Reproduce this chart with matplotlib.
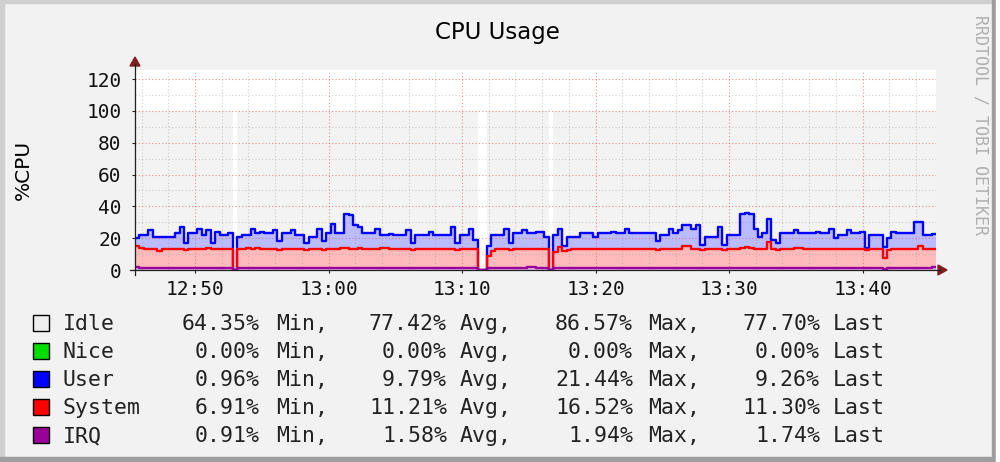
import numpy as np
import matplotlib.pyplot as plt
from matplotlib.patches import Rectangle, Polygon
from matplotlib.lines import Line2D

nan = np.nan

# samples every 20 s starting 12:45:30 (x axis in minutes after 12:00)
start_min = 45.5
step_min = 1 / 3

irq = [
    1.6, 1.5, 1.5, 1.5, 1.5, 1.5, 1.5, 1.5, 1.5, 1.5,
    1.5, 1.5, 1.5, 1.5, 1.5, 1.5, 1.5, 1.5, 1.5, 1.5,
    1.5, 1.5, nan, 1.5, 1.5, 1.5, 1.5, 1.5, 1.5, 1.5,
    1.5, 1.5, 1.5, 1.5, 1.5, 1.5, 1.5, 1.5, 1.5, 1.5,
    1.5, 1.5, 1.5, 1.5, 1.5, 1.5, 1.5, 1.5, 1.5, 1.5,
    1.5, 1.5, 1.5, 1.5, 1.5, 1.5, 1.5, 1.5, 1.5, 1.5,
    1.5, 1.5, 1.5, 1.5, 1.5, 1.5, 1.5, 1.5, 1.5, 1.5,
    1.5, 1.5, 1.5, 1.5, 1.5, 1.5, 1.5, nan, nan, 1.5,
    1.5, 1.5, 1.5, 1.5, 1.5, 1.5, 1.5, 1.5, 1.9, 1.9,
    1.5, 1.5, 1.5, nan, 1.5, 1.5, 1.5, 1.5, 1.5, 1.5,
    1.5, 1.5, 1.5, 1.5, 1.5, 1.5, 1.5, 1.5, 1.5, 1.5,
    1.5, 1.5, 1.5, 1.5, 1.5, 1.5, 1.5, 1.5, 1.5, 1.5,
    1.5, 1.5, 1.5, 1.5, 1.5, 1.5, 1.5, 1.5, 1.5, 1.5,
    1.5, 1.5, 1.5, 1.5, 1.5, 1.5, 1.5, 1.5, 1.5, 1.5,
    1.5, 1.5, 1.5, 1.5, 1.5, 1.5, 1.5, 1.5, 1.5, 1.5,
    1.5, 1.5, 1.5, 1.5, 1.5, 1.5, 1.5, 1.5, 1.5, 1.5,
    1.5, 1.5, 1.5, 1.5, 1.5, 1.5, 1.5, 1.5, 0.9, 1.5,
    1.5, 1.5, 1.5, 1.5, 1.5, 1.5, 1.5, 1.5, 1.5, 1.74,
]

system = [
    13.5, 12.5, 11.7, 11.7, 11.5, 10.7, 11.5, 11.5, 11.9, 11.5,
    11.5, 11.1, 11.5, 11.9, 11.5, 11.5, 12.1, 11.5, 11.5, 11.9,
    11.5, 11.5, nan, 11.5, 11.5, 12.1, 11.7, 12.1, 11.5, 11.5,
    11.9, 11.5, 10.9, 11.5, 11.9, 11.5, 11.5, 11.7, 10.9, 11.5,
    11.5, 11.9, 11.1, 11.5, 11.5, 11.7, 12.1, 12.1, 11.7, 11.5,
    12.1, 11.5, 11.5, 11.9, 11.5, 12.1, 12.3, 11.5, 11.5, 11.9,
    11.5, 11.5, 10.9, 11.5, 11.9, 11.5, 11.5, 11.9, 11.5, 11.5,
    11.7, 11.5, 11.1, 11.9, 11.5, 11.9, 11.5, nan, nan, 7.0,
    10.7, 11.5, 11.5, 11.7, 11.1, 11.5, 11.5, 11.9, 11.1, 11.1,
    11.9, 11.5, 11.5, nan, 10.0, 13.0, 10.5, 10.9, 11.5, 11.5,
    11.9, 11.5, 11.5, 11.5, 11.9, 11.5, 11.5, 11.9, 11.5, 11.9,
    11.5, 11.5, 11.9, 11.5, 11.5, 11.9, 11.5, 11.1, 11.9, 11.5,
    11.5, 11.9, 11.5, 13.3, 13.3, 11.9, 11.9, 10.9, 11.5, 11.9,
    11.5, 11.9, 11.1, 11.5, 11.5, 11.9, 12.5, 12.7, 12.5, 11.5,
    11.5, 11.9, 16.0, 11.5, 10.9, 11.5, 11.9, 11.5, 12.1, 12.1,
    11.5, 11.5, 11.9, 11.5, 11.5, 11.9, 11.5, 11.9, 11.5, 11.5,
    11.9, 11.5, 11.5, 11.9, 11.3, 11.5, 11.9, 11.5, 6.9, 10.9,
    11.5, 11.9, 11.5, 11.5, 11.9, 11.5, 13.3, 11.5, 11.5, 11.3,
]

user = [
    5.0, 8.0, 8.8, 11.8, 8.0, 8.8, 8.0, 8.0, 7.6, 10.0,
    14.0, 4.4, 10.0, 9.6, 13.0, 9.0, 11.4, 4.0, 11.0, 8.6,
    9.0, 10.0, nan, 8.0, 9.0, 8.4, 12.8, 9.4, 11.0, 10.0,
    9.6, 12.0, 5.6, 10.0, 9.6, 12.0, 9.0, 8.8, 4.6, 8.0,
    8.0, 12.6, 5.4, 10.0, 16.0, 9.8, 9.4, 21.4, 21.4, 15.0,
    13.4, 10.0, 10.0, 9.6, 13.0, 8.4, 8.2, 9.5, 9.0, 8.6,
    9.0, 12.0, 4.6, 9.0, 8.6, 9.0, 11.0, 8.6, 9.0, 9.0,
    8.8, 14.0, 4.4, 8.6, 9.0, 12.6, 6.0, nan, nan, 6.5,
    9.8, 9.0, 9.0, 12.8, 4.4, 10.0, 10.0, 11.6, 10.0, 10.0,
    10.6, 11.0, 8.0, nan, 10.5, 11.5, 3.0, 8.6, 8.0, 8.0,
    9.6, 10.0, 10.0, 8.0, 9.6, 10.0, 10.0, 10.6, 10.0, 9.6,
    13.0, 10.0, 9.6, 10.0, 10.0, 9.6, 10.0, 5.4, 8.6, 9.0,
    13.0, 9.6, 12.0, 13.2, 13.2, 12.6, 14.6, 3.6, 8.0, 7.6,
    8.0, 13.6, 3.4, 9.0, 9.0, 8.6, 21.2, 21.4, 21.0, 13.0,
    8.0, 9.6, 14.5, 6.0, 4.6, 10.0, 9.6, 10.0, 11.4, 9.4,
    10.0, 10.0, 9.6, 11.0, 10.0, 9.6, 13.0, 6.6, 9.0, 9.0,
    11.6, 10.0, 10.0, 10.6, 1.2, 9.0, 8.6, 9.0, 6.5, 7.6,
    11.0, 9.6, 10.0, 10.0, 9.6, 17.0, 15.2, 9.0, 9.0, 9.3,
]

nice = [0.0] * len(user)

tick_minutes = [50, 60, 70, 80, 90, 100]
tick_labels = ["12:50", "13:00", "13:10", "13:20", "13:30", "13:40"]

legend_names = ["Idle", "Nice", "User", "System", "IRQ"]
legend_colors = ["#EEEEEE", "#00DD00", "#0000FF", "#FF0000", "#9A009A"]
legend_stats = [
    [64.35, 77.42, 86.57, 77.70],
    [0.00, 0.00, 0.00, 0.00],
    [0.96, 9.79, 21.44, 9.26],
    [6.91, 11.21, 16.52, 11.30],
    [0.91, 1.58, 1.94, 1.74],
]
stat_words = ["Min,", "Avg,", "Max,", "Last"]

W, H = 1000, 462


def fx(px):
    return px / W


def fy(py):
    return 1 - py / H


def ext(a):
    return np.append(a, a[-1])


fig = plt.figure(figsize=(W / 100, H / 100), dpi=100, facecolor="#F2F2F2")

# frame
for (x0, y0, x1, y1, c) in [(0, 0, 996, 3, "#CFCFCF"), (0, 0, 4, 462, "#CFCFCF"),
                            (0, 457, 996, 462, "#9E9E9E"), (992, 0, 996, 462, "#9E9E9E"),
                            (996, 0, 1000, 462, "#FFFFFF")]:
    fig.patches.append(Rectangle((fx(x0), fy(y1)), (x1 - x0) / W, (y1 - y0) / H,
                                 transform=fig.transFigure, color=c, zorder=0))

ax = fig.add_axes([fx(135), fy(270), 801 / W, 200 / H])
ax.set_facecolor("white")
for s in ax.spines.values():
    s.set_visible(False)

n = len(user)
x = start_min + step_min * np.arange(n + 1)
gap = np.isnan(np.array(user))
l1 = np.nan_to_num(np.array(irq))
l2 = l1 + np.nan_to_num(np.array(system))
l3 = l2 + np.nan_to_num(np.array(user)) + np.array(nice)
top = np.where(gap, l3, 100.0)

ax.fill_between(x, 0, ext(l1), step="post", color="#E4B4E4", lw=0, antialiased=False, zorder=1)
ax.fill_between(x, ext(l1), ext(l2), step="post", color="#FFBBBB", lw=0, antialiased=False, zorder=1)
ax.fill_between(x, ext(l2), ext(l3), step="post", color="#BBBBFF", lw=0, antialiased=False, zorder=1)
ax.fill_between(x, ext(l3), ext(top), step="post", color="#F3F3F3", lw=0, antialiased=False, zorder=1)

# grid
for m in range(46, 106, 2):
    major = m % 10 == 0
    ax.axvline(m, color="#DE4F4F" if major else "#8F8F8F", alpha=0.6 if major else 0.4,
               lw=0.8, ls=(0, (1, 2)), zorder=2)
for v in range(10, 126, 10):
    major = v % 20 == 0
    ax.axhline(v, color="#DE4F4F" if major else "#8F8F8F", alpha=0.6 if major else 0.4,
               lw=0.8, ls=(0, (1, 2)), zorder=2)

ax.step(x, ext(l3), where="post", color="#0000FF", lw=1.7, zorder=3)
ax.step(x, ext(l2), where="post", color="#FF0000", lw=1.7, zorder=3)
ax.step(x, ext(l1), where="post", color="#9A009A", lw=1.7, zorder=3)

ax.set_xlim(45.5, 105.5)
ax.set_ylim(0, 125.7)
ax.set_xticks(tick_minutes)
ax.set_xticklabels(tick_labels)
ax.set_yticks(range(0, 121, 20))
ax.tick_params(axis="both", which="major", length=2.5, width=0.8, color="#1F1F1F",
               labelsize=14, labelcolor="#111111")
ax.tick_params(axis="x", pad=4.4)
ax.tick_params(axis="y", pad=7.1)
for lab in ax.get_xticklabels() + ax.get_yticklabels():
    lab.set_fontfamily("DejaVu Sans Mono")

# axes with arrows
fig.add_artist(Line2D([fx(130), fx(940)], [fy(270), fy(270)], color="#1F1F1F", lw=0.9))
fig.add_artist(Line2D([fx(135), fx(135)], [fy(275), fy(64)], color="#1F1F1F", lw=0.9))
fig.patches.append(Polygon([(fx(947), fy(270)), (fx(938), fy(265)), (fx(938), fy(275))],
                           closed=True, transform=fig.transFigure, color="#801F1F"))
fig.patches.append(Polygon([(fx(135), fy(57)), (fx(130), fy(66)), (fx(140), fy(66))],
                           closed=True, transform=fig.transFigure, color="#801F1F"))

fig.text(fx(497), fy(39.3), "CPU Usage", ha="center", va="baseline",
         fontsize=16.5, family="DejaVu Sans")
fig.text(fx(23.5), fy(170), "%CPU", ha="center", va="center", rotation=90,
         fontsize=14.5, family="DejaVu Sans")
fig.text(fx(980), fy(125), "RRDTOOL / TOBI OETIKER", ha="center", va="center",
         rotation=270, fontsize=12, family="DejaVu Sans Mono", color="#B0B0B0")

num_right = [260, 447, 633, 820]
word_left = [276, 460, 648, 833]
for i, name in enumerate(legend_names):
    base = 330 + 28 * i
    fig.patches.append(Rectangle((fx(32.5), fy(base + 1)), 16.5 / W, 16.5 / H,
                                 transform=fig.transFigure, facecolor=legend_colors[i],
                                 edgecolor="black", lw=1))
    fig.text(fx(63), fy(base), name, ha="left", va="baseline",
             fontsize=15.5, family="DejaVu Sans Mono", color="#222222")
    for j, val in enumerate(legend_stats[i]):
        fig.text(fx(num_right[j]), fy(base), f"{val:.2f}%", ha="right", va="baseline",
                 fontsize=15.5, family="DejaVu Sans Mono", color="#222222")
        fig.text(fx(word_left[j]), fy(base), stat_words[j], ha="left", va="baseline",
                 fontsize=15.5, family="DejaVu Sans Mono", color="#222222")

fig.savefig("out.png", dpi=100, facecolor=fig.get_facecolor())
